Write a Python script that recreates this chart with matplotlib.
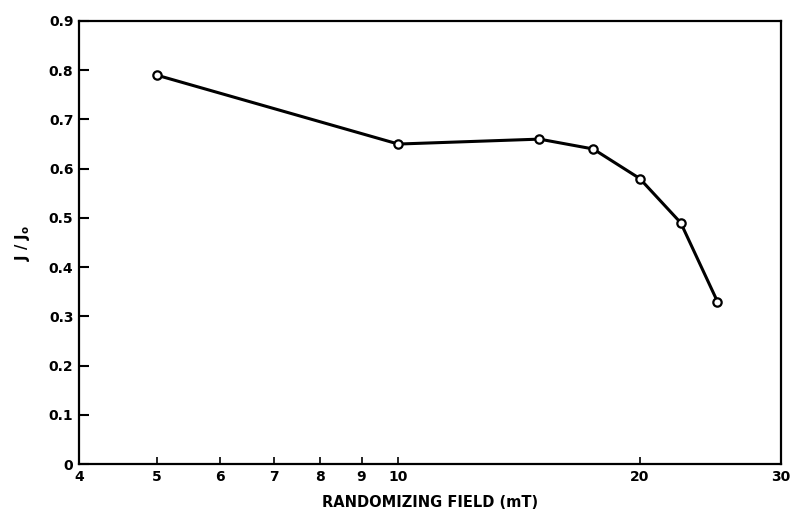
import numpy as np
import matplotlib.pyplot as plt
from matplotlib.ticker import FixedLocator, FixedFormatter, NullLocator

plt.rc('font', family='DejaVu Sans', weight='bold', size=10)

# data
field = [5, 10, 15, 17.5, 20, 22.5, 25]
ratio = [0.79, 0.65, 0.66, 0.64, 0.58, 0.49, 0.33]

xticks = [4, 5, 6, 7, 8, 9, 10, 20, 30]
xticklabels = ['4', '5', '6', '7', '8', '9', '10', '20', '30']
yticks = [0, 0.1, 0.2, 0.3, 0.4, 0.5, 0.6, 0.7, 0.8, 0.9]
yticklabels = ['0', '0.1', '0.2', '0.3', '0.4', '0.5', '0.6', '0.7', '0.8', '0.9']

fig = plt.figure(figsize=(7.94, 5.18), dpi=100)
ax = fig.add_axes([0.0995, 0.1042, 0.8841, 0.8553])

ax.plot(field, ratio, color='black', linewidth=2.2, marker='o',
        markersize=6, markerfacecolor='white', markeredgecolor='black',
        markeredgewidth=1.6)

ax.set_xscale('log')
ax.set_xlim(4, 30)
ax.set_ylim(0, 0.9)
ax.xaxis.set_major_locator(FixedLocator(xticks))
ax.xaxis.set_major_formatter(FixedFormatter(xticklabels))
ax.xaxis.set_minor_locator(NullLocator())
ax.set_yticks(yticks)
ax.set_yticklabels(yticklabels)

ax.tick_params(axis='x', direction='in', length=5, width=1.2, pad=4, labelsize=10)
ax.tick_params(axis='y', direction='in', length=7, width=1.5, pad=4, labelsize=10)
for s in ax.spines.values():
    s.set_linewidth(1.6)

ax.set_xlabel('RANDOMIZING FIELD (mT)', fontsize=10.5, fontweight='bold', labelpad=8)
ax.set_ylabel(r'J / J$_\mathbf{o}$', fontsize=10.5, fontweight='bold', labelpad=12)

fig.savefig('out.png', dpi=100)
